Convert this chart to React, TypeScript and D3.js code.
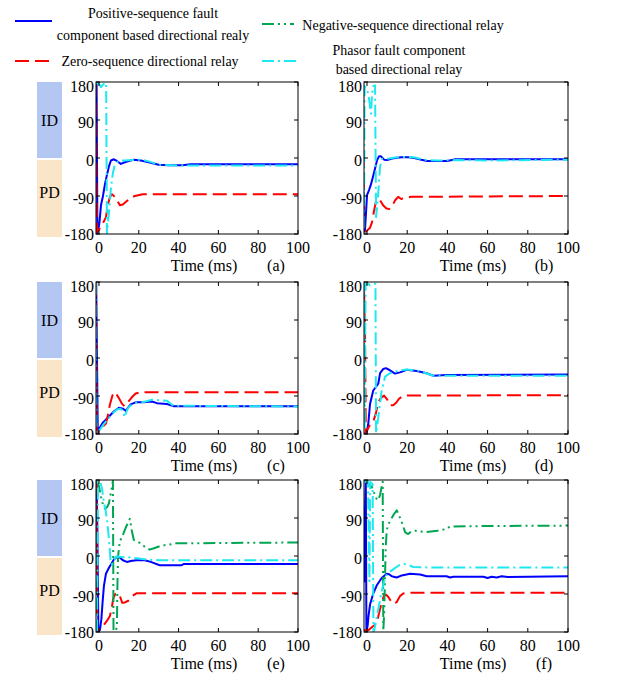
import React from "react";
import * as d3 from "d3";

type Pt = [number, number];

document.body.style.margin = "0";

const W = 635;
const H = 675;
const FONT = "'Liberation Serif', 'Times New Roman', serif";

const xTicks = [0, 20, 40, 60, 80, 100];
const yTicks = [-180, -90, 0, 90, 180];
const panelTags = ["(a)", "(b)", "(c)", "(d)", "(e)", "(f)"];

// (a)
const posA: Pt[] = [[-1.5, 170], [-1.2, 178], [-0.8, -178], [-0.3, -170], [0.3, -150], [1, -112], [2, -90], [3, -62], [4, -40], [5, -20], [6, -6], [7.5, -3], [9, -7], [11, -14], [13, -10], [15, -7], [17.4, -4], [21, -6], [25, -10], [30, -16], [35, -17], [42, -17], [46, -15], [100, -15]];
const zeroA: Pt[] = [[-1.8, 178], [-1.5, 100], [-1.3, -60], [-1, -175], [0, -170], [1, -162], [2.5, -150], [3.5, -140], [4.5, -110], [5.5, -92], [6.5, -86], [7.5, -90], [9, -100], [10.5, -112], [12, -110], [14, -102], [16, -94], [18, -90], [22, -86], [100, -86]];
const phasorA: Pt[] = [[-1.5, 178], [0, 176], [1, 168], [2, 174], [3.6, 178], [4, -178], [5, -130], [6, -72], [7, -35], [8, -16], [10, -6], [13, -6], [17, -5], [21, -4], [25, -8], [30, -16], [40, -18], [100, -18]];

// (b)
const posB: Pt[] = [[-1.8, -80], [-1.5, -178], [-1, -170], [-0.5, -130], [0, -88], [1, -76], [2, -62], [3, -44], [4, -25], [5, -5], [6, 4], [7, 4], [8.5, -4], [10, -5], [12, -2], [14, 0], [17, 2], [20.5, 2], [23.5, 0], [27, -4], [30, -7], [40, -7], [44, -3], [100, -3]];
const zeroB: Pt[] = [[-1.8, 8], [-1.6, -100], [-1.4, -178], [0, -172], [1.5, -165], [2.5, -152], [3.5, -125], [4.5, -102], [5.5, -96], [6.5, -100], [8, -112], [9.5, -119], [11, -121], [12.5, -114], [14, -100], [15.5, -92], [17, -97], [19, -94], [22, -92], [100, -90]];
const phasorB: Pt[] = [[-1.8, 175], [-1.5, -178], [-1.2, 170], [0, 165], [1, 140], [2, 105], [2.5, 150], [3, 170], [4, 172], [4.5, -140], [5.5, -90], [6.5, -20], [7.5, -2], [9, -2], [11, -1], [14, 1], [17, 2], [20, 3], [24, 1], [28, -4], [35, -6], [45, -5], [60, -6], [100, -4]];

// (c)
const posC: Pt[] = [[-1.4, 178], [-1, 0], [-0.6, -178], [0, -168], [1.8, -154], [4.3, -142], [7.6, -126], [10, -118], [12, -120], [13.4, -125], [15.9, -110], [18.4, -105], [22.5, -105], [26.6, -103], [29.1, -107], [34.1, -109], [37.4, -114], [100, -114]];
const zeroC: Pt[] = [[-1.5, 178], [-1.2, -178], [0, -168], [2, -162], [3.5, -155], [4.5, -135], [5.5, -110], [6.8, -88], [7.6, -81], [8.8, -86], [10, -95], [11.5, -108], [12.8, -114], [14.5, -105], [16.5, -93], [18.4, -84], [21, -81], [100, -81]];
const phasorC: Pt[] = [[-1.6, 178], [-1.3, -178], [-0.5, -176], [1, -166], [2.5, -156], [4.3, -146], [6, -136], [7.6, -128], [9, -122], [10.5, -120], [12, -124], [12.8, -140], [13.6, -130], [14.4, -120], [16, -112], [18.4, -106], [22.5, -104], [26.6, -99], [30, -100], [34, -101], [37.4, -113], [100, -115]];

// (d)
const posD: Pt[] = [[-1.2, -177], [-0.2, -177], [0.6, -157], [1.5, -109], [3.1, -77], [5.6, -61], [6.5, -36], [8.1, -26], [9.4, -24], [11.4, -29], [13.9, -37], [16.4, -34], [19.7, -28], [24.7, -31], [29.7, -36], [33, -42], [39.6, -40], [100, -39]];
const zeroD: Pt[] = [[-1.5, 165], [-1, 60], [-0.6, -178], [0, -172], [1, -162], [3, -152], [4.5, -130], [5.6, -104], [7, -94], [8.5, -89], [10, -98], [11.5, -112], [13, -112], [14.5, -106], [16, -96], [18, -90], [20, -89], [100, -88]];
const phasorD: Pt[] = [[-1.7, 178], [-1.2, -170], [-0.7, 175], [0.5, 176], [1.5, 172], [3, 174], [4.2, 176], [4.5, -178], [5.6, -141], [7.3, -77], [9, -44], [11.4, -36], [13.9, -32], [19.7, -27], [25.5, -30], [33, -42], [100, -42]];

// (e)
const posE: Pt[] = [[-1.2, 178], [-0.8, 60], [-0.3, -178], [0.5, -175], [1.2, -150], [1.8, -110], [2.5, -70], [3.5, -42], [5, -28], [6.3, -18], [7.5, -8], [8.7, -3], [10.3, -3], [12, -10], [14, -14], [16, -12], [18.8, -10], [23, -10], [26, -14], [30.5, -22], [41.3, -22], [42.5, -19], [100, -19]];
const zeroE: Pt[] = [[-1.4, 178], [-1.2, 0], [-1, -178], [0.5, -170], [2, -166], [3.8, -155], [5.5, -142], [6.5, -120], [7.2, -100], [8.2, -90], [9.5, -88], [10.5, -95], [11.7, -111], [13, -110], [14.7, -106], [16.7, -95], [19, -88], [100, -88]];
const negE: Pt[] = [[-1, 178], [0, 165], [1, 140], [2, 122], [3, 112], [4, 115], [5, 125], [6, 150], [7, 178], [7.3, -178], [8.5, -175], [9, -170], [9.3, -60], [9.6, 0], [10.5, 35], [12, 50], [13.5, 68], [15.5, 88], [16.5, 60], [17.5, 38], [20.5, 31], [23, 22], [25.5, 15], [28, 19], [31, 24], [35, 27], [38.8, 30], [100, 32]];
const phasorE: Pt[] = [[-1.5, -178], [-1, -176], [-0.5, 175], [0.5, 178], [1.5, 160], [2.5, 125], [3.3, 110], [4.2, 80], [5, 40], [5.8, -10], [6.5, -20], [7.5, -8], [8.7, -1], [10.5, -2], [12, -3], [14, -2], [16, -4], [20, -6], [25, -9], [30, -10], [100, -10]];

// (f)
const posF: Pt[] = [[-2, 178], [-1.2, -60], [-0.6, 178], [-0.3, -178], [0.3, -165], [0.8, -140], [1.5, -115], [3.1, -89], [4.8, -70], [7.3, -52], [9.8, -42], [11, -43], [12.3, -48], [14.8, -51], [17.3, -46], [21.4, -42], [26.4, -44], [29.7, -48], [39.6, -48], [41.3, -51], [43, -49], [57.9, -49], [60, -52], [62, -49], [64.5, -51], [67, -48], [70, -50], [100, -48]];
const zeroF: Pt[] = [[-1.5, -175], [0.65, -176], [2.5, -168], [4.8, -160], [6, -135], [7.3, -110], [8.5, -93], [9.5, -92], [10.6, -97], [12, -108], [13.1, -113], [14.8, -109], [16.4, -95], [18, -89], [19.7, -87], [100, -87]];
const negF: Pt[] = [[-1.5, 178], [0, 176], [1.2, 168], [2.3, 165], [3.5, 150], [4.8, 135], [5.6, 132], [6.5, 145], [7.3, 165], [7.8, 176], [8.1, -178], [8.5, -140], [8.9, -60], [9.3, 20], [9.8, 60], [10.6, 75], [12.3, 90], [13.5, 100], [14.8, 108], [15.6, 100], [17.3, 80], [19, 56], [20.5, 52], [22, 58], [24, 60], [26.4, 58], [29.7, 57], [35, 60], [39.6, 64], [41.3, 70], [60, 71], [100, 72]];
const phasorF: Pt[] = [[-2, 178], [-1, 176], [0.5, 178], [1.2, -60], [1.6, 175], [2.8, 170], [3.2, -178], [3.6, -176], [4.2, -160], [5.6, -126], [7.2, -86], [8.5, -60], [9.5, -46], [11.2, -38], [13.5, -30], [16, -22], [18.5, -19], [20.5, -21], [23, -26], [30, -27], [100, -27]];

const panelPos = [posA, posB, posC, posD, posE, posF];
const panelZero = [zeroA, zeroB, zeroC, zeroD, zeroE, zeroF];
const panelNeg: (Pt[] | null)[] = [null, null, null, null, negE, negF];
const panelPhasor = [phasorA, phasorB, phasorC, phasorD, phasorE, phasorF];

const BLUE = "#0000ff";
const RED = "#ff0000";
const GREEN = "#00a651";
const CYAN = "#1ee8f0";

const DASH_ZERO = "14,6";
const DASH_NEG = "12,4,2,4,2,4";
const DASH_PHASOR = "12,4,2,4";

const colX = [96, 364];
const colW = [202, 204];
const rowY = [82, 282, 480];
const plotH = 152;

function Panel({ idx }: { idx: number }) {
  const col = idx % 2;
  const row = Math.floor(idx / 2);
  const x0 = colX[col];
  const w = colW[col];
  const y0 = rowY[row];

  const x = d3.scaleLinear().domain([-1.5, 100]).range([x0, x0 + w]);
  const y = d3.scaleLinear().domain([-180, 180]).range([y0 + plotH, y0]);
  const line = d3
    .line<Pt>()
    .x((d) => x(d[0]))
    .y((d) => y(d[1]));

  const clipId = `clip-${idx}`;
  const neg = panelNeg[idx];

  return (
    <g>
      <defs>
        <clipPath id={clipId}>
          <rect x={x0} y={y0} width={w} height={plotH} />
        </clipPath>
      </defs>

      {col === 0 && (
        <g>
          <rect x={37} y={y0} width={25} height={76} fill="#b4c7f2" />
          <rect x={37} y={y0 + 78} width={25} height={77} fill="#fbe5c8" />
          <text x={49.5} y={y0 + 44} textAnchor="middle" fontSize={16} fontFamily={FONT}>
            ID
          </text>
          <text x={49.5} y={y0 + 116} textAnchor="middle" fontSize={16} fontFamily={FONT}>
            PD
          </text>
        </g>
      )}

      <g clipPath={`url(#${clipId})`} fill="none" strokeWidth={2} strokeLinejoin="round">
        <path d={line(panelPos[idx]) || ""} stroke={BLUE} />
        <path d={line(panelZero[idx]) || ""} stroke={RED} strokeDasharray={DASH_ZERO} />
        {neg && <path d={line(neg) || ""} stroke={GREEN} strokeDasharray={DASH_NEG} />}
        <path d={line(panelPhasor[idx]) || ""} stroke={CYAN} strokeDasharray={DASH_PHASOR} />
      </g>

      <rect x={x0} y={y0} width={w} height={plotH} fill="none" stroke="#000" strokeWidth={1} />

      {xTicks.map((t) => (
        <g key={`x${t}`}>
          <line x1={x(t)} x2={x(t)} y1={y0 + plotH} y2={y0 + plotH - 4} stroke="#000" />
          <line x1={x(t)} x2={x(t)} y1={y0} y2={y0 + 4} stroke="#000" />
          <text x={x(t)} y={y0 + plotH + 19} textAnchor="middle" fontSize={16} fontFamily={FONT}>
            {t}
          </text>
        </g>
      ))}
      {yTicks.map((v) => (
        <g key={`y${v}`}>
          <line x1={x0} x2={x0 + 4} y1={y(v)} y2={y(v)} stroke="#000" />
          <line x1={x0 + w} x2={x0 + w - 4} y1={y(v)} y2={y(v)} stroke="#000" />
          <text x={x0 - 2} y={y(v) + (v === 180 ? 10 : v === -180 ? 6 : 8)} textAnchor="end" fontSize={16} fontFamily={FONT}>
            {v}
          </text>
        </g>
      ))}

      <text x={x0 + w / 2 + 7} y={y0 + plotH + 37} textAnchor="middle" fontSize={16} fontFamily={FONT}>
        Time (ms)
      </text>
      <text x={x0 + 180} y={y0 + plotH + 37} textAnchor="middle" fontSize={16} fontFamily={FONT}>
        {panelTags[idx]}
      </text>
    </g>
  );
}

function Legend() {
  return (
    <g fontFamily={FONT} fontSize={14} textAnchor="middle">
      <line x1={15} x2={52} y1={21} y2={21} stroke={BLUE} strokeWidth={2} />
      <text x={153} y={18}>Positive-sequence fault</text>
      <text x={153} y={40}>component based directional realy</text>

      <line x1={15} x2={52} y1={61} y2={61} stroke={RED} strokeWidth={2} strokeDasharray={DASH_ZERO} />
      <text x={150} y={66}>Zero-sequence directional relay</text>

      <line x1={262} x2={294} y1={24} y2={24} stroke={GREEN} strokeWidth={2} strokeDasharray={DASH_NEG} />
      <text x={403} y={30}>Negative-sequence directional relay</text>

      <line x1={262} x2={298} y1={61} y2={61} stroke={CYAN} strokeWidth={2} strokeDasharray={DASH_PHASOR} />
      <text x={399} y={55}>Phasor fault component</text>
      <text x={399} y={74}>based directional relay</text>
    </g>
  );
}

export default function App() {
  return (
    <svg width={W} height={H} style={{ display: "block", background: "#fff" }}>
      <Legend />
      {panelTags.map((_, i) => (
        <Panel key={i} idx={i} />
      ))}
    </svg>
  );
}
